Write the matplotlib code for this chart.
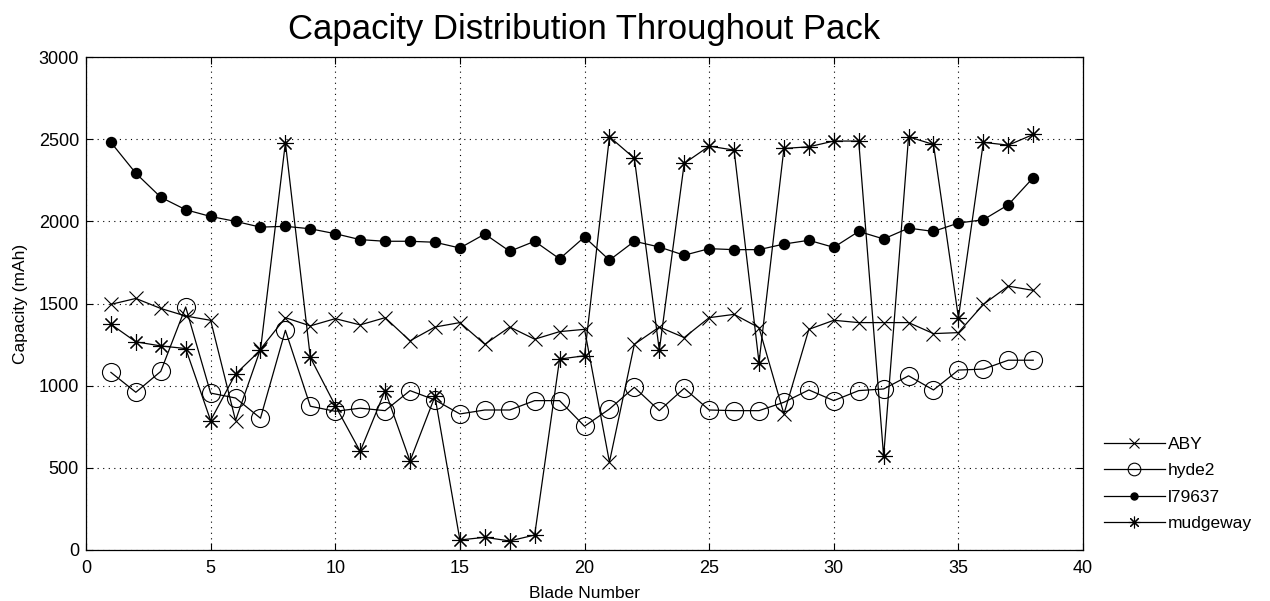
import matplotlib
matplotlib.use("Agg")
import matplotlib.pyplot as plt

blade = list(range(1, 39))

aby = [1495, 1531, 1470, 1424, 1398, 788, 1222, 1414, 1364, 1408,
       1370, 1414, 1273, 1357, 1384, 1252, 1357, 1283, 1329, 1343,
       535, 1252, 1357, 1293, 1414, 1434, 1353, 828, 1343, 1398,
       1384, 1384, 1384, 1317, 1323, 1495, 1606, 1580]

hyde2 = [1081, 960, 1087, 1479, 955, 925, 802, 1337, 875, 844,
         863, 848, 970, 913, 828, 852, 852, 909, 909, 753,
         858, 990, 848, 984, 852, 848, 848, 899, 974, 909,
         970, 980, 1060, 974, 1095, 1101, 1155, 1155]

l79637 = [2481, 2293, 2147, 2071, 2030, 2000, 1965, 1970, 1955, 1925,
          1889, 1879, 1879, 1873, 1838, 1923, 1818, 1879, 1772, 1905,
          1764, 1879, 1844, 1794, 1834, 1828, 1828, 1862, 1885, 1842,
          1939, 1893, 1959, 1939, 1990, 2010, 2101, 2266]

mudgeway = [1374, 1267, 1242, 1226, 788, 1071, 1216, 2479, 1172, 879,
            600, 970, 541, 935, 61, 77, 55, 91, 1162, 1182,
            2515, 2384, 1216, 2353, 2458, 2434, 1141, 2444, 2454, 2489,
            2489, 570, 2515, 2468, 1414, 2481, 2464, 2529]

legend_labels = ["ABY", "hyde2", "l79637", "mudgeway"]

plt.rcParams['font.family'] = ['Liberation Sans', 'DejaVu Sans']

fig = plt.figure(figsize=(12.70, 6.01), dpi=100)
ax = fig.add_axes([0.0677, 0.0849, 0.7851, 0.8201])

lw = 0.9
ax.plot(blade, aby, color='black', lw=lw, marker='x', markersize=9.5,
        markeredgewidth=0.8, label=legend_labels[0])
ax.plot(blade, hyde2, color='black', lw=lw, marker='o', markersize=13,
        markerfacecolor='none', markeredgewidth=0.8, label=legend_labels[1])
ax.plot(blade, l79637, color='black', lw=lw, marker='o', markersize=7.2,
        markerfacecolor='black', label=legend_labels[2])
ax.plot(blade, mudgeway, color='black', lw=lw, marker=(8, 2, 0), markersize=12,
        markeredgewidth=0.8, label=legend_labels[3])

ax.set_xlim(0, 40)
ax.set_ylim(0, 3000)
ax.set_xticks(range(0, 41, 5))
ax.set_yticks(range(0, 3001, 500))
ax.tick_params(direction='in', top=True, right=True, labelsize=13, length=5)
ax.tick_params(axis='x', pad=7)
ax.tick_params(axis='y', pad=5)
ax.grid(True, linestyle=(0, (1, 4)), color='black', lw=0.8)
for s in ax.spines.values():
    s.set_linewidth(0.9)

ax.set_xlabel("Blade Number", fontsize=12.5, labelpad=6.5)
ax.set_ylabel("Capacity (mAh)", fontsize=12.5, labelpad=8)
ax.set_title("Capacity Distribution Throughout Pack", fontsize=25, pad=13)

leg = ax.legend(loc='center left', bbox_to_anchor=(1.021, 0.134), frameon=False,
                fontsize=12.5, handlelength=3.5, handletextpad=0.2,
                labelspacing=0.64, markerscale=0.7,
                borderaxespad=0, borderpad=0)

fig.savefig("out.png", dpi=100)
